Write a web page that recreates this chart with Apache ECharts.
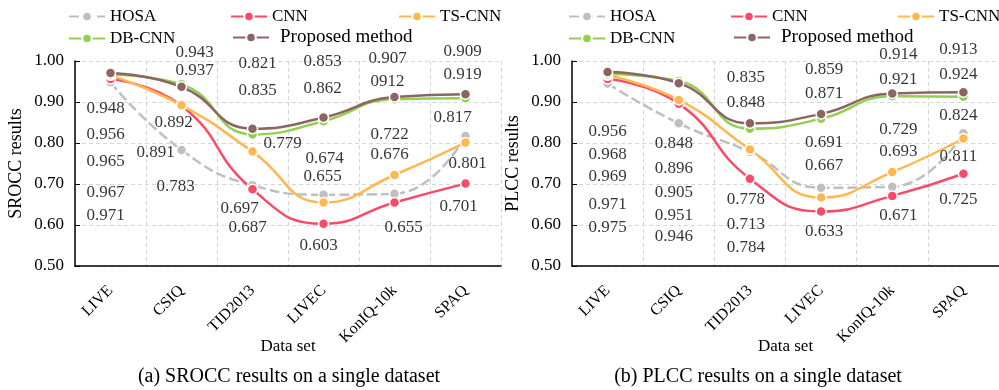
<!DOCTYPE html>
<html>
<head>
<meta charset="utf-8">
<script src="https://cdn.jsdelivr.net/npm/echarts@6/dist/echarts.min.js"></script>
<style>
  html, body { margin: 0; padding: 0; background: #fff; }
  #main { width: 999px; height: 390px; }
</style>
</head>
<body>
<div id="main"></div>
<script>
// 数据集
const categories = ['LIVE', 'CSIQ', 'TID2013', 'LIVEC', 'KonIQ-10k', 'SPAQ'];
const methods = ['HOSA', 'CNN', 'TS-CNN', 'DB-CNN', 'Proposed method'];

// (a) SROCC
const sroccHOSA = [0.948, 0.783, 0.697, 0.674, 0.676, 0.817];
const sroccCNN = [0.956, 0.891, 0.687, 0.603, 0.655, 0.701];
const sroccTS = [0.965, 0.892, 0.779, 0.655, 0.722, 0.801];
const sroccDB = [0.967, 0.943, 0.821, 0.853, 0.907, 0.909];
const sroccOurs = [0.971, 0.937, 0.835, 0.862, 0.912, 0.919];

// (b) PLCC
const plccHOSA = [0.945, 0.848, 0.778, 0.691, 0.693, 0.824];
const plccCNN = [0.956, 0.896, 0.713, 0.633, 0.671, 0.725];
const plccTS = [0.965, 0.905, 0.784, 0.667, 0.729, 0.811];
const plccDB = [0.968, 0.951, 0.835, 0.859, 0.914, 0.913];
const plccOurs = [0.973, 0.946, 0.848, 0.871, 0.921, 0.924];

// 图上的数值标注 (文字)
const sroccText = [
  ['0.948', '0.956', '0.965', '0.967', '0.971'],
  ['0.943', '0.937', '0.892', '0.891', '0.783'],
  ['0.821', '0.835', '0.779', '0.697', '0.687'],
  ['0.853', '0.862', '0.674', '0.655', '0.603'],
  ['0.907', '0912', '0.722', '0.676', '0.655'],
  ['0.909', '0.919', '0.817', '0.801', '0.701']
];
const plccText = [
  ['0.956', '0.968', '0.969', '0.971', '0.975'],
  ['0.848', '0.896', '0.905', '0.951', '0.946'],
  ['0.835', '0.848', '0.778', '0.713', '0.784'],
  ['0.859', '0.871', '0.691', '0.667', '0.633'],
  ['0.914', '0.921', '0.729', '0.693', '0.671'],
  ['0.913', '0.924', '0.824', '0.811', '0.725']
];

// 标注的摆放位置 [x偏移px, y轴位置]
const sroccTextPos = [
  [[-5, 0.885], [-5, 0.820], [-5, 0.756], [-5, 0.680], [-5, 0.624]],
  [[13, 1.020], [13, 0.976], [-8, 0.849], [-26, 0.776], [-6, 0.695]],
  [[5, 0.993], [5, 0.927], [30, 0.798], [-13, 0.641], [-5, 0.593]],
  [[-1, 0.998], [-1, 0.932], [1, 0.761], [-1, 0.717], [-5, 0.551]],
  [[-7, 1.005], [-7, 0.949], [-5, 0.820], [-5, 0.771], [9, 0.595]],
  [[-3, 1.022], [-3, 0.966], [-13, 0.861], [2, 0.751], [-7, 0.644]]
];
const plccTextPos = [
  [[0, 0.827], [0, 0.771], [0, 0.717], [0, 0.649], [0, 0.595]],
  [[-5, 0.798], [-5, 0.737], [-5, 0.680], [-5, 0.624], [-5, 0.571]],
  [[-4, 0.959], [-4, 0.898], [-4, 0.661], [-4, 0.600], [-4, 0.544]],
  [[3, 0.980], [3, 0.920], [3, 0.802], [3, 0.744], [3, 0.583]],
  [[6, 1.015], [6, 0.954], [6, 0.832], [6, 0.778], [6, 0.624]],
  [[-5, 1.027], [-5, 0.966], [-5, 0.868], [-5, 0.768], [-5, 0.661]]
];

const colors = ['#bfbfbf', '#f94b66', '#ffb84f', '#92d050', '#8c6461'];
const serif = '"Liberation Serif", "Times New Roman", serif';

function lineSeries(name, data, idx, color) {
  return {
    name: name,
    type: 'line',
    xAxisIndex: idx,
    yAxisIndex: idx,
    data: data,
    smooth: 0.5,
    symbol: 'circle',
    symbolSize: 10,
    lineStyle: {
      color: color,
      width: 2.5,
      type: name === 'HOSA' ? [10, 4] : 'solid'
    },
    itemStyle: {
      color: color,
      borderColor: '#fff',
      borderWidth: 1.5
    }
  };
}

function labelSeries(texts, pos, idx) {
  let data = [];
  for (let i = 0; i < texts.length; i++) {
    for (let j = 0; j < texts[i].length; j++) {
      data.push({
        name: texts[i][j],
        value: [i, pos[i][j][1]],
        label: { offset: [pos[i][j][0], 0] }
      });
    }
  }
  return {
    type: 'scatter',
    xAxisIndex: idx,
    yAxisIndex: idx,
    symbolSize: 0,
    silent: true,
    clip: false,
    z: 10,
    label: {
      show: true,
      position: 'inside',
      formatter: '{b}',
      color: '#000',
      fontFamily: serif,
      fontSize: 17
    },
    data: data
  };
}

function xAxis(idx) {
  return {
    type: 'category',
    gridIndex: idx,
    data: categories,
    boundaryGap: true,
    name: 'Data set',
    nameLocation: 'middle',
    nameGap: 72,
    nameMoveOverlap: false,
    nameTextStyle: { color: '#000', fontFamily: serif, fontSize: 17 },
    axisLine: { lineStyle: { color: '#000', width: 1.5 } },
    axisTick: { inside: true, length: 5, lineStyle: { color: '#000' } },
    axisLabel: { rotate: 45, margin: 22, color: '#000', fontFamily: serif, fontSize: 16, interval: 0 },
    splitLine: { show: true, lineStyle: { color: '#d6d6d6', type: [4, 3] } }
  };
}

function yAxis(idx, name) {
  return {
    type: 'value',
    gridIndex: idx,
    min: 0.5,
    max: 1.0,
    interval: 0.1,
    name: name,
    nameLocation: 'middle',
    nameGap: 50,
    nameTextStyle: { color: '#000', fontFamily: serif, fontSize: 18 },
    axisLine: { show: true, lineStyle: { color: '#000', width: 1.5 } },
    axisTick: { show: true, inside: true, length: 5, lineStyle: { color: '#000' } },
    axisLabel: {
      margin: 11,
      color: '#000',
      fontFamily: serif,
      fontSize: 17,
      formatter: function (v) { return v.toFixed(2); }
    },
    splitLine: { show: true, lineStyle: { color: '#d6d6d6', type: [4, 3] } }
  };
}

// 每个图例单独摆放
function legendItem(name, left, top, fontSize, pad) {
  return {
    data: [name],
    left: left,
    top: top,
    padding: 0,
    itemWidth: 36,
    itemHeight: 12,
    selectedMode: false,
    textStyle: { color: '#000', fontFamily: serif, fontSize: fontSize, padding: [0, 0, 0, pad] }
  };
}

let myChart = echarts.init(document.getElementById('main'));

let series = [];
let sets = [[sroccHOSA, sroccCNN, sroccTS, sroccDB, sroccOurs], [plccHOSA, plccCNN, plccTS, plccDB, plccOurs]];
for (let g = 0; g < 2; g++) {
  for (let m = 0; m < methods.length; m++) {
    series.push(lineSeries(methods[m], sets[g][m], g, colors[m]));
  }
}
series.push(labelSeries(sroccText, sroccTextPos, 0));
series.push(labelSeries(plccText, plccTextPos, 1));

let option = {
  animation: false,
  backgroundColor: '#fff',
  legend: [
    legendItem('HOSA', 68, 8, 17, 0),
    legendItem('CNN', 230, 8, 17, 0),
    legendItem('TS-CNN', 398, 8, 17, 0),
    legendItem('DB-CNN', 68, 30, 17, 0),
    legendItem('Proposed method', 232, 28, 19, 6),
    legendItem('HOSA', 568, 8, 17, 0),
    legendItem('CNN', 730, 8, 17, 0),
    legendItem('TS-CNN', 897, 8, 17, 0),
    legendItem('DB-CNN', 568, 30, 17, 0),
    legendItem('Proposed method', 733, 28, 19, 6)
  ],
  grid: [
    { left: 75, top: 61, width: 426, height: 205, containLabel: false },
    { left: 572, top: 61, width: 427, height: 205, containLabel: false }
  ],
  xAxis: [xAxis(0), xAxis(1)],
  yAxis: [yAxis(0, 'SROCC results'), yAxis(1, 'PLCC results')],
  graphic: [
    {
      type: 'text', x: 289, y: 377,
      style: { text: '(a) SROCC results on a single dataset', font: '20px ' + serif, fill: '#000', align: 'center', verticalAlign: 'middle' }
    },
    {
      type: 'text', x: 758, y: 377,
      style: { text: '(b) PLCC results on a single dataset', font: '20px ' + serif, fill: '#000', align: 'center', verticalAlign: 'middle' }
    }
  ],
  series: series
};

myChart.setOption(option);
</script>
</body>
</html>
